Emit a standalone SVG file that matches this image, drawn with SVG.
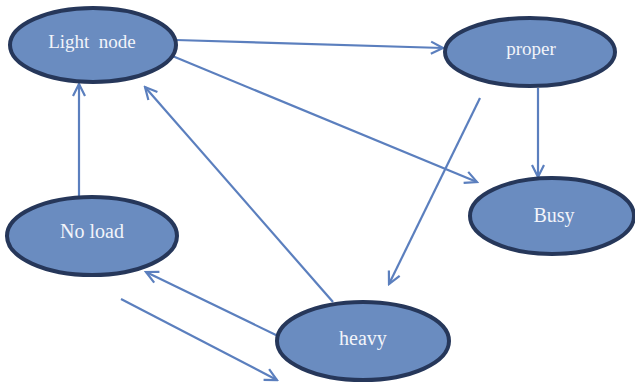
<svg xmlns="http://www.w3.org/2000/svg" width="635" height="385" viewBox="0 0 635 385">
<style>
.node ellipse{fill:#6a8cc0;stroke:#26375a;stroke-width:4}
.node text{font-family:"Liberation Serif",serif;font-size:19px;fill:#f2f4fa;text-anchor:middle}
.edge{fill:none;stroke:#5b7fbe;stroke-width:2.2}
</style>
<defs>
<marker id="arr" markerUnits="userSpaceOnUse" markerWidth="16" markerHeight="16" viewBox="0 0 16 16" refX="14" refY="8" orient="auto">
<path d="M2,2 L14,8 L2,14" fill="none" stroke="#5b7fbe" stroke-width="2.2"/>
</marker>
</defs>
<rect width="635" height="385" fill="#ffffff"/>
<g id="connectors">
<line class="edge" x1="176" y1="40" x2="443" y2="48" marker-end="url(#arr)"/>
<line class="edge" x1="170" y1="55" x2="477" y2="182" marker-end="url(#arr)"/>
<line class="edge" x1="538" y1="88" x2="538" y2="177" marker-end="url(#arr)"/>
<line class="edge" x1="480" y1="98" x2="389" y2="284" marker-end="url(#arr)"/>
<line class="edge" x1="333" y1="302" x2="145" y2="87" marker-end="url(#arr)"/>
<line class="edge" x1="79" y1="197" x2="79" y2="84" marker-end="url(#arr)"/>
<line class="edge" x1="278" y1="336" x2="146" y2="272" marker-end="url(#arr)"/>
<line class="edge" x1="121" y1="299" x2="277" y2="380" marker-end="url(#arr)"/>
</g>
<g id="light-node" class="node">
<ellipse cx="93" cy="45" rx="83" ry="37"/>
<text x="92" y="48" xml:space="preserve">Light  node</text>
</g>
<g id="proper" class="node">
<ellipse cx="530" cy="52" rx="85" ry="34"/>
<text x="531" y="55">proper</text>
</g>
<g id="busy" class="node">
<ellipse cx="552" cy="216" rx="82" ry="38"/>
<text x="554" y="222" style="font-size:20px">Busy</text>
</g>
<g id="no-load" class="node">
<ellipse cx="92" cy="236" rx="85" ry="39"/>
<text x="92" y="238" style="font-size:20px">No load</text>
</g>
<g id="heavy" class="node">
<ellipse cx="363" cy="341" rx="86" ry="39"/>
<text x="363" y="345" style="font-size:20px">heavy</text>
</g>
</svg>
